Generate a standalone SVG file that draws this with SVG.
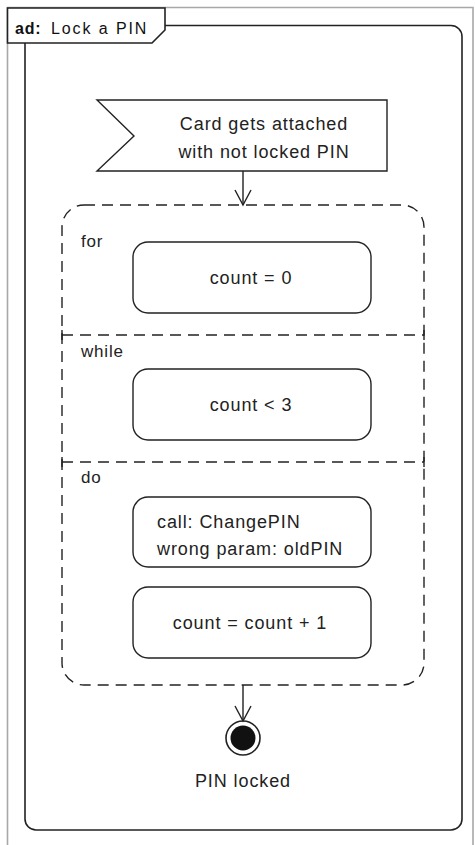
<svg xmlns="http://www.w3.org/2000/svg" width="475" height="845" viewBox="0 0 475 845">
<defs>
<style>
.t{font-family:"Liberation Sans",Arial,sans-serif;font-size:18px;fill:#222;letter-spacing:0.9px}
.tc{text-anchor:middle}
.lbl{font-family:"Liberation Sans",Arial,sans-serif;font-size:17px;fill:#222;letter-spacing:0.8px}
.node{fill:#fff;stroke:#222;stroke-width:1.4}
.dash{fill:none;stroke:#222;stroke-width:1.4;stroke-dasharray:11 7}
.edge{fill:none;stroke:#222;stroke-width:1.4}
.tab{font-family:"Liberation Sans",Arial,sans-serif;font-size:16px;fill:#111}
</style>
<marker id="open" viewBox="0 0 20 20" refX="18" refY="10" markerWidth="20" markerHeight="20" markerUnits="userSpaceOnUse" orient="auto">
<path d="M3 2 L18 10 L3 18" fill="none" stroke="#222" stroke-width="1.4"/>
</marker>
</defs>
<rect width="475" height="845" fill="#fff"/>
<g id="frame">
<path d="M7.5 845 V7.5 H473 V845" fill="none" stroke="#a8a8a8" stroke-width="1.6"/>
<rect x="25" y="25.5" width="437" height="804.5" rx="11" fill="#fff" stroke="#222" stroke-width="1.6"/>
<path d="M7.5 8 H165 V30 L152 43 H7.5 Z" fill="#fff" stroke="#222" stroke-width="1.6"/>
<text class="tab" x="15" y="34" font-weight="bold" style="letter-spacing:0.8px">ad:</text>
<text class="tab" x="51" y="34" style="letter-spacing:1.9px">Lock a PIN</text>
</g>
<g id="signal">
<path class="node" d="M97 100 H387 V171 H97 L134 136 Z"/>
<text class="t tc" x="264" y="130">Card gets attached</text>
<text class="t tc" x="264" y="158">with not locked PIN</text>
</g>
<g id="loop">
<rect class="dash" x="62" y="205" width="362" height="480" rx="22"/>
<line class="dash" x1="62" y1="335" x2="424" y2="335"/>
<line class="dash" x1="62" y1="462" x2="424" y2="462"/>
<line x1="62" y1="330" x2="62" y2="340" stroke="#222" stroke-width="1.4"/>
<line x1="424" y1="330" x2="424" y2="340" stroke="#222" stroke-width="1.4"/>
<line x1="62" y1="457" x2="62" y2="467" stroke="#222" stroke-width="1.4"/>
<line x1="424" y1="457" x2="424" y2="467" stroke="#222" stroke-width="1.4"/>
<text class="lbl" x="81" y="247">for</text>
<text class="lbl" x="81" y="357">while</text>
<text class="lbl" x="81" y="483">do</text>
</g>
<g id="init">
<rect class="node" x="133" y="242" width="238" height="71" rx="15"/>
<text class="t tc" x="251" y="284">count = 0</text>
</g>
<g id="cond">
<rect class="node" x="133" y="369" width="238" height="71" rx="15"/>
<text class="t tc" x="251" y="411">count &lt; 3</text>
</g>
<g id="call">
<rect class="node" x="133" y="497" width="238" height="70" rx="15"/>
<text class="t" x="157" y="528">call: ChangePIN</text>
<text class="t" x="157" y="555">wrong param: oldPIN</text>
</g>
<g id="incr">
<rect class="node" x="133" y="587" width="238" height="71" rx="15"/>
<text class="t tc" x="250" y="629">count = count + 1</text>
</g>
<g id="final">
<circle cx="243" cy="738" r="17" fill="#fff" stroke="#222" stroke-width="1.6"/>
<circle cx="243" cy="738" r="12.5" fill="#111"/>
<text class="t tc" x="243" y="787">PIN locked</text>
</g>
<g id="connectors">
<line class="edge" x1="243" y1="171" x2="243" y2="205" marker-end="url(#open)"/>
<line class="edge" x1="243" y1="685" x2="243" y2="721" marker-end="url(#open)"/>
</g>
</svg>
